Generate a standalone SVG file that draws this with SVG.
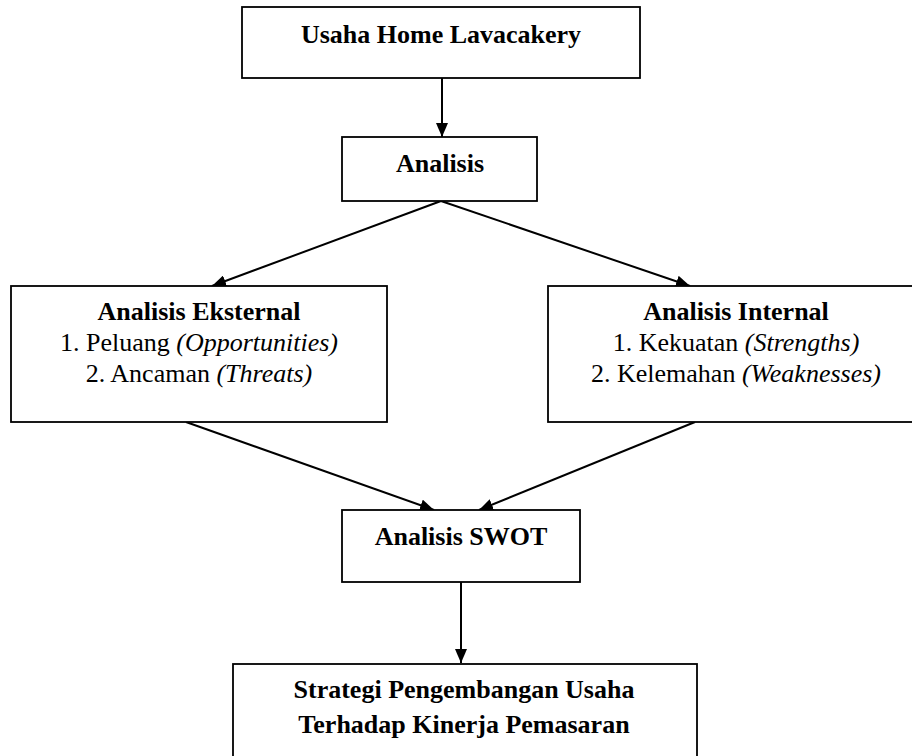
<svg xmlns="http://www.w3.org/2000/svg" width="912" height="756" viewBox="0 0 912 756">
<style>
.box{fill:#fff;stroke:#000;stroke-width:1.8}
.t{font-size:26px;fill:#000;text-anchor:middle}
.b{font-weight:bold}
.i{font-style:italic}
.c{fill:none;stroke:#000;stroke-width:2}
</style>
<defs>
<marker id="ah" markerUnits="userSpaceOnUse" markerWidth="14" markerHeight="12" refX="14" refY="6" orient="auto">
<path d="M0,0 L14,6 L0,12 Z" fill="#000"/>
</marker>
</defs>
<rect width="912" height="756" fill="#fff"/>
<g id="connectors">
<line class="c" x1="442" y1="78" x2="442" y2="137" marker-end="url(#ah)"/>
<line class="c" x1="441" y1="201" x2="212" y2="286" marker-end="url(#ah)"/>
<line class="c" x1="441" y1="201" x2="690" y2="286" marker-end="url(#ah)"/>
<line class="c" x1="186" y1="422" x2="434" y2="510" marker-end="url(#ah)"/>
<line class="c" x1="695" y1="422" x2="479" y2="510" marker-end="url(#ah)"/>
<line class="c" x1="461" y1="582" x2="461" y2="663" marker-end="url(#ah)"/>
</g>
<g font-family="Liberation Serif, Times New Roman, DejaVu Serif, serif">
<g id="n1">
<rect class="box" x="242" y="7" width="398" height="71"/>
<text class="t b" x="441" y="43">Usaha Home Lavacakery</text>
</g>
<g id="n2">
<rect class="box" x="342" y="137" width="195" height="64"/>
<text class="t b" x="440" y="172">Analisis</text>
</g>
<g id="n3">
<rect class="box" x="11" y="286" width="376" height="136"/>
<text class="t b" x="199" y="320">Analisis Eksternal</text>
<text class="t" x="199" y="351">1. Peluang <tspan class="i">(Opportunities)</tspan></text>
<text class="t" x="199" y="382">2. Ancaman <tspan class="i">(Threats)</tspan></text>
</g>
<g id="n4">
<rect class="box" x="548" y="286" width="376" height="136"/>
<text class="t b" x="736" y="320">Analisis Internal</text>
<text class="t" x="736" y="351">1. Kekuatan <tspan class="i">(Strengths)</tspan></text>
<text class="t" x="736" y="382">2. Kelemahan <tspan class="i">(Weaknesses)</tspan></text>
</g>
<g id="n5">
<rect class="box" x="342" y="510" width="238" height="72"/>
<text class="t b" x="461" y="545">Analisis SWOT</text>
</g>
<g id="n6">
<rect class="box" x="233" y="664" width="464" height="110"/>
<text class="t b" x="464" y="698">Strategi Pengembangan Usaha</text>
<text class="t b" x="464" y="733">Terhadap Kinerja Pemasaran</text>
</g>
</g>
</svg>
